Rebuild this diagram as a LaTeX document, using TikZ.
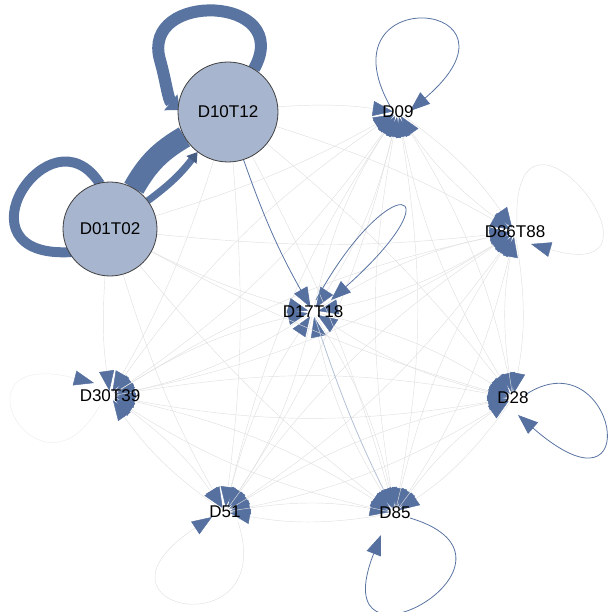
\documentclass[tikz,border=0pt]{standalone}
\usepackage{fontspec}
\setmainfont{Liberation Sans}
\usetikzlibrary{arrows.meta}
\definecolor{nodefill}{HTML}{A7B5CE}
\definecolor{edgeblue}{HTML}{5A74A2}
\definecolor{tipblue}{HTML}{5670A0}
\definecolor{lightedge}{HTML}{E0E0E0}
\definecolor{paleedge}{HTML}{EEEEEE}
\definecolor{blueedge}{HTML}{B4C0D6}
\begin{document}
\begin{tikzpicture}[x=1pt,y=-1pt,
  bigshape/.style={circle,inner sep=0pt,draw=none,fill=none},
  bignode/.style={circle,draw=black!75,line width=0.8pt,fill=nodefill,inner sep=0pt,font=\fontsize{17}{19}\selectfont},
  smallpt/.style={circle,inner sep=0pt,minimum size=10pt},
  lbl/.style={font=\fontsize{17}{19}\selectfont,text=black,inner sep=0pt},
  tipa/.style={-{Triangle[length=20pt,width=15pt,fill=tipblue,color=tipblue]}},
  gedge/.style={draw=lightedge,line width=0.45pt,tipa},
  bedge/.style={draw=edgeblue,line width=0.8pt,tipa},
  thick band/.style={draw=edgeblue,line cap=butt},
]
\useasboundingbox (0,0) rectangle (611,612);
% placeholders
\node[bigshape,minimum size=100pt] (D10T12) at (228,112) {};
\node[bigshape,minimum size=94pt] (D01T02) at (110,229) {};
\node[smallpt] (D09) at (398,112) {};
\node[smallpt] (D86T88) at (515,232) {};
\node[smallpt] (D17T18) at (313,312) {};
\node[smallpt] (D30T39) at (110,396) {};
\node[smallpt] (D28) at (513,398) {};
\node[smallpt] (D51) at (225,512) {};
\node[smallpt] (D85) at (395,513) {};
% gray edges among small nodes
\foreach \s in {D09,D86T88,D17T18,D30T39,D28,D51,D85}{
  \foreach \t in {D09,D86T88,D17T18,D30T39,D28,D51,D85}{
    \ifx\s\t\else
      \draw[gedge] (\s) to[bend left=10] (\t);
    \fi
  }
}
% edges from big nodes
\foreach \t in {D09,D86T88,D30T39,D28,D51,D85}
  \draw[gedge] (D10T12) to[bend left=6] (\t);
\foreach \t in {D09,D86T88,D17T18,D30T39,D28,D51,D85}
  \draw[gedge] (D01T02) to[bend right=6] (\t);
% blue edges
\draw[bedge] (D10T12) to[bend right=5] (D17T18);
\draw[draw=blueedge,line width=0.8pt,tipa] (D17T18) to[bend right=4] (D85);
% thin loops
\draw[bedge] ([shift={(-8,-6)}]D09.center) .. controls (320,-20) and (540,0) .. ([shift={(12,-1)}]D09.center);
\draw[gedge] ([shift={(2,-7)}]D86T88.center) .. controls (510,60) and (690,290) .. ([shift={(16,12)}]D86T88.center);
\draw[bedge] ([shift={(3,-12)}]D17T18.center) .. controls (390,165) and (460,185) .. ([shift={(18,-12)}]D17T18.center);
\draw[draw=paleedge,line width=0.5pt,tipa] ([shift={(-10,9)}]D30T39.center) .. controls (40,515) and (-55,345) .. ([shift={(-16,-13)}]D30T39.center);
\draw[bedge] ([shift={(12,-3)}]D28.center) .. controls (615,335) and (650,530) .. ([shift={(5,17)}]D28.center);
\draw[gedge] ([shift={(13,10)}]D51.center) .. controls (280,650) and (70,610) .. ([shift={(-13,5)}]D51.center);
\draw[bedge] ([shift={(15,5)}]D85.center) .. controls (550,560) and (320,690) .. ([shift={(-14,22)}]D85.center);
% thick bands between the big nodes
\draw[thick band,line width=22pt] (D01T02) to[bend left=15] (D10T12);
\draw[thick band,line width=7pt,-{Triangle[length=10pt,width=12pt,fill=edgeblue!80!black,color=edgeblue!80!black]}] (D01T02) to[bend right=8] (D10T12);
% thick loops
\draw[thick band,line width=12pt,-{Triangle[length=12pt,width=20pt,fill=edgeblue,color=edgeblue]}] ([shift={(26,-43)}]D10T12.center) .. controls (295,-5) and (140,-10) .. (160,60) .. controls (166,81) and (168,100) .. ([shift={(-48,-2)}]D10T12.center);
\draw[thick band,line width=10pt] ([shift={(-10,-45)}]D01T02.center) .. controls (50,105) and (-50,260) .. ([shift={(-38,23)}]D01T02.center);
% big nodes
\node[bignode,minimum size=100pt] at (D10T12) {D10T12};
\node[bignode,minimum size=94pt] at (D01T02) {D01T02};
% labels of small nodes
\node[lbl] at (D09) {D09};
\node[lbl] at (D86T88) {D86T88};
\node[lbl] at (D17T18) {D17T18};
\node[lbl] at (D30T39) {D30T39};
\node[lbl] at (D28) {D28};
\node[lbl] at (D51) {D51};
\node[lbl] at (D85) {D85};
\end{tikzpicture}
\end{document}
